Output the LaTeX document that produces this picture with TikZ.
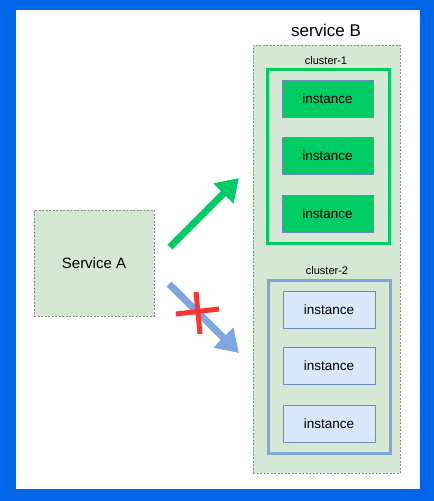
\documentclass[tikz,border=0pt]{standalone}
\usepackage{fontspec}
\setmainfont{Liberation Sans}
\usetikzlibrary{arrows.meta}
\definecolor{bluebg}{RGB}{0,101,230}
\definecolor{paleGreen}{HTML}{D5E8D4}
\definecolor{dashGray}{HTML}{888888}
\definecolor{brightGreen}{HTML}{00CC66}
\definecolor{softBlue}{HTML}{7EA6E0}
\definecolor{paleBlue}{HTML}{DAE8FC}
\definecolor{edgeBlue}{HTML}{6C8EBF}
\definecolor{crossRed}{HTML}{FF3333}
\begin{document}
\begin{tikzpicture}[x=1pt,y=-1pt,
  dashbox/.style={draw=dashGray, dashed, dash pattern=on 2pt off 1.5pt, line width=0.8pt, fill=paleGreen, inner sep=0pt},
  clusterbox/.style={line width=3pt, inner sep=0pt},
  instbox/.style={draw=edgeBlue, line width=0.8pt, inner sep=0pt, font=\fontsize{13.5}{15}\selectfont},
  lbl/.style={inner sep=0pt, text=black},
  bigarrow/.style={line width=7pt, -{Triangle[length=22pt,width=27pt]}}
]
\useasboundingbox (0,0) rectangle (434,501);
\fill[bluebg] (0,0) rectangle (434,501);
\fill[white] (16,10) rectangle (420,489);

\node[lbl, font=\fontsize{17}{19}\selectfont] (titleB) at (326,30) {service B};
\node[dashbox, minimum width=147pt, minimum height=428pt] (svcB) at (326.5,259) {};
\node[lbl, font=\fontsize{11}{13}\selectfont] (lab1) at (326,61) {cluster-1};
\node[clusterbox, draw=brightGreen, minimum width=122pt, minimum height=174pt] (cl1) at (328,156) {};
\node[instbox, fill=brightGreen, minimum width=91pt, minimum height=37pt] (i1) at (327.5,99) {instance};
\node[instbox, fill=brightGreen, minimum width=91pt, minimum height=37pt] (i2) at (327.5,155.5) {instance};
\node[instbox, fill=brightGreen, minimum width=91pt, minimum height=37pt] (i3) at (327.5,213.5) {instance};

\node[lbl, font=\fontsize{11}{13}\selectfont] (lab2) at (327,271) {cluster-2};
\node[clusterbox, draw=softBlue, minimum width=122pt, minimum height=173pt] (cl2) at (329,366.5) {};
\node[instbox, fill=paleBlue, minimum width=92pt, minimum height=37pt] (j1) at (329,309.5) {instance};
\node[instbox, fill=paleBlue, minimum width=92pt, minimum height=37pt] (j2) at (329,366) {instance};
\node[instbox, fill=paleBlue, minimum width=92pt, minimum height=37pt] (j3) at (329,423.5) {instance};

\node[dashbox, minimum width=120pt, minimum height=106pt, font=\fontsize{15}{17}\selectfont] (svcA) at (94,263) {Service A};

\coordinate (gs) at (170,247);
\coordinate (ge) at (239,178);
\coordinate (bs) at (169,284);
\coordinate (be) at (239,353);
\draw[bigarrow, draw=brightGreen, fill=brightGreen] (gs) -- (ge);
\draw[bigarrow, draw=softBlue, fill=softBlue] (bs) -- (be);

\coordinate (x1) at (176,314);
\coordinate (x2) at (219,309);
\coordinate (x3) at (196,292);
\coordinate (x4) at (200,334);
\draw[crossRed, line width=5pt] (x1) -- (x2);
\draw[crossRed, line width=5pt] (x3) -- (x4);
\end{tikzpicture}
\end{document}
